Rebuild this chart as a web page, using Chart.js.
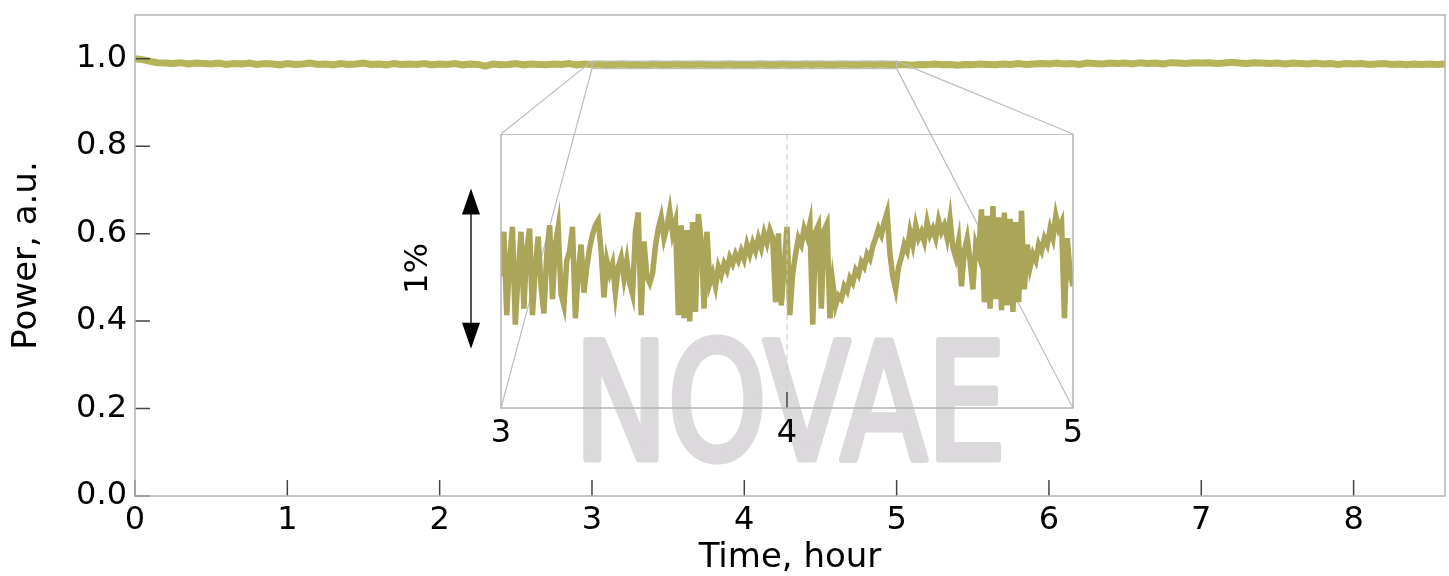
<!DOCTYPE html>
<html>
<head>
<meta charset="utf-8">
<title>Power, a.u. vs time</title>
<script src="https://cdn.jsdelivr.net/npm/chart.js@4.4.1/dist/chart.umd.min.js"></script>
<style>
  html, body { margin: 0; padding: 0; background: #fff; }
  .wrap { position: relative; width: 1449px; height: 576px; }
  .wrap canvas { position: absolute; }
  #main-chart { left: 0; top: 0; }
  #inset-chart { left: 380px; top: 134px; }
</style>
</head>
<body>
<div class="wrap">
  <canvas id="main-chart" width="1449" height="576"></canvas>
  <canvas id="inset-chart" width="733" height="326"></canvas>
</div>
<script>
// Main trace: normalised power, one reading every 0.05 hour from t = 0
const mainStep = 0.05;
const mainPower = [
  1.000, 0.998, 0.994, 0.991, 0.990, 0.989, 0.991, 0.988, 0.990, 0.989,
  0.988, 0.990, 0.987, 0.989, 0.988, 0.990, 0.987, 0.989, 0.988, 0.986,
  0.989, 0.987, 0.988, 0.990, 0.987, 0.988, 0.986, 0.989, 0.987, 0.988,
  0.990, 0.987, 0.988, 0.986, 0.989, 0.987, 0.988, 0.987, 0.989, 0.986,
  0.988, 0.987, 0.989, 0.986, 0.988, 0.987, 0.983, 0.988, 0.986, 0.987,
  0.989, 0.986, 0.988, 0.987, 0.986, 0.988, 0.987, 0.989, 0.986, 0.988,
  0.987, 0.988, 0.986, 0.987, 0.988, 0.986, 0.987, 0.985, 0.988, 0.987,
  0.986, 0.988, 0.987, 0.986, 0.988, 0.987, 0.985, 0.987, 0.988, 0.986,
  0.987, 0.986, 0.988, 0.987, 0.986, 0.988, 0.987, 0.986, 0.988, 0.987,
  0.988, 0.986, 0.987, 0.988, 0.987, 0.986, 0.988, 0.987, 0.988, 0.987,
  0.986, 0.987, 0.985, 0.987, 0.986, 0.988, 0.986, 0.987, 0.985, 0.987,
  0.986, 0.988, 0.987, 0.986, 0.988, 0.987, 0.989, 0.987, 0.988, 0.989,
  0.988, 0.990, 0.988, 0.989, 0.987, 0.990, 0.989, 0.988, 0.990, 0.989,
  0.990, 0.988, 0.991, 0.989, 0.990, 0.988, 0.991, 0.990, 0.989, 0.991,
  0.990, 0.991, 0.989, 0.990, 0.992, 0.990, 0.989, 0.991, 0.990, 0.989,
  0.990, 0.988, 0.990, 0.989, 0.988, 0.990, 0.988, 0.989, 0.987, 0.989,
  0.988, 0.989, 0.987, 0.988, 0.989, 0.987, 0.988, 0.986, 0.988, 0.987,
  0.988, 0.987, 0.988,
];

// Zoomed trace between 3 and 5 hours, one reading every 0.01 hour
const insetStart = 3;
const insetEnd = 5;
const insetStep = 0.01;
const insetPower = [
  0.9856, 0.9884, 0.9832, 0.9866, 0.9887, 0.9826, 0.9858, 0.9884, 0.9836, 0.9873,
  0.9886, 0.9832, 0.9862, 0.9881, 0.9850, 0.9833, 0.9870, 0.9888, 0.9842, 0.9876,
  0.9887, 0.9845, 0.9838, 0.9866, 0.9872, 0.9887, 0.9830, 0.9858, 0.9876, 0.9846,
  0.9862, 0.9874, 0.9882, 0.9888, 0.9891, 0.9872, 0.9843, 0.9866, 0.9858, 0.9864,
  0.9846, 0.9862, 0.9868, 0.9855, 0.9866, 0.9852, 0.9845, 0.9884, 0.9896, 0.9832,
  0.9878, 0.9856, 0.9852, 0.9858, 0.9875, 0.9886, 0.9893, 0.9880, 0.9887, 0.9897,
  0.9883, 0.9890, 0.9832, 0.9888, 0.9830, 0.9885, 0.9828, 0.9890, 0.9834, 0.9895,
  0.9878, 0.9836, 0.9884, 0.9852, 0.9858, 0.9850, 0.9862, 0.9857, 0.9864, 0.9860,
  0.9868, 0.9864, 0.9870, 0.9866, 0.9872, 0.9867, 0.9876, 0.9870, 0.9877, 0.9872,
  0.9880, 0.9874, 0.9883, 0.9877, 0.9885, 0.9880, 0.9840, 0.9883, 0.9838, 0.9862,
  0.9887, 0.9832, 0.9858, 0.9870, 0.9880, 0.9876, 0.9886, 0.9881, 0.9889, 0.9826,
  0.9884, 0.9888, 0.9836, 0.9885, 0.9889, 0.9830, 0.9852, 0.9838, 0.9844, 0.9842,
  0.9850, 0.9847, 0.9855, 0.9852, 0.9860, 0.9857, 0.9865, 0.9862, 0.9870, 0.9867,
  0.9875, 0.9880, 0.9886, 0.9882, 0.9890, 0.9896, 0.9870, 0.9856, 0.9848, 0.9862,
  0.9868, 0.9876, 0.9872, 0.9884, 0.9876, 0.9888, 0.9880, 0.9884, 0.9878, 0.9890,
  0.9882, 0.9886, 0.9880, 0.9891, 0.9884, 0.9888, 0.9880, 0.9892, 0.9874, 0.9868,
  0.9878, 0.9850, 0.9872, 0.9880, 0.9866, 0.9848, 0.9876, 0.9870, 0.9898, 0.9840,
  0.9894, 0.9836, 0.9900, 0.9842, 0.9893, 0.9835, 0.9896, 0.9838, 0.9892, 0.9834,
  0.9890, 0.9840, 0.9897, 0.9848, 0.9876, 0.9862, 0.9870, 0.9866, 0.9876, 0.9872,
  0.9880, 0.9876, 0.9886, 0.9880, 0.9894, 0.9886, 0.9890, 0.9830, 0.9880, 0.9858,
  0.9850,
];

// Axis ranges and the zoom window
const timeMax = 8.6;
const powerMax = 1.1;
const insetPowerMin = 0.9774;
const insetPowerMax = 0.9945;
// The 1% scale arrow next to the inset
const arrowLow = 0.9811;
const arrowHigh = 0.9911;

const FONT = '"DejaVu Sans", "Liberation Sans", sans-serif';
const traceColor = 'rgb(182, 180, 88)';
const insetColor = 'rgb(170, 165, 88)';
const frameColor = '#b4b4b4';
const tickColor = '#444';
const watermarkColor = '#dcd9dc';

/**
 * Turns a list of readings into {x, y} points
 * @param {number[]} values Readings
 * @param {number} start Time of first reading
 * @param {number} step Time between readings
 */
function toPoints(values, start, step) {
  return values.map((v, i) => ({ x: start + i * step, y: v }));
}

/**
 * Draws a filled arrow head
 */
function arrowHead(ctx, x, tipY, dir) {
  ctx.beginPath();
  ctx.moveTo(x, tipY);
  ctx.lineTo(x - 9, tipY + dir * 26);
  ctx.lineTo(x + 9, tipY + dir * 26);
  ctx.closePath();
  ctx.fill();
}

// Decorations of the small chart: frame, dashed centre line, 1% arrow
const insetDecor = {
  id: 'insetDecor',
  afterDraw(chart) {
    const { ctx, chartArea: a, scales } = chart;
    ctx.save();
    // dashed line at the middle tick
    const mid = scales.x.getPixelForValue(4);
    ctx.strokeStyle = '#c8c8c8';
    ctx.lineWidth = 1;
    ctx.setLineDash([6, 4]);
    ctx.beginPath();
    ctx.moveTo(mid, a.top);
    ctx.lineTo(mid, a.bottom);
    ctx.stroke();
    ctx.setLineDash([]);
    // inward tick
    ctx.strokeStyle = tickColor;
    ctx.lineWidth = 1.5;
    ctx.beginPath();
    ctx.moveTo(mid, a.bottom);
    ctx.lineTo(mid, a.bottom - 16);
    ctx.stroke();
    // frame
    ctx.strokeStyle = frameColor;
    ctx.lineWidth = 1.5;
    ctx.strokeRect(a.left, a.top, a.right - a.left, a.bottom - a.top);

    // 1% arrow
    const ax = a.left - 30;
    const top = scales.y.getPixelForValue(arrowHigh);
    const bottom = scales.y.getPixelForValue(arrowLow);
    ctx.strokeStyle = '#555';
    ctx.lineWidth = 2;
    ctx.beginPath();
    ctx.moveTo(ax, top + 10);
    ctx.lineTo(ax, bottom - 10);
    ctx.stroke();
    ctx.fillStyle = '#000';
    arrowHead(ctx, ax, top, 1);
    arrowHead(ctx, ax, bottom, -1);
    ctx.translate(a.left - 82, (top + bottom) / 2);
    ctx.rotate(-Math.PI / 2);
    ctx.font = '32px ' + FONT;
    ctx.textAlign = 'center';
    ctx.textBaseline = 'middle';
    ctx.fillText('1%', 0, 0);
    ctx.restore();
  },
};

const insetCanvas = document.getElementById('inset-chart');
const insetChart = new Chart(insetCanvas.getContext('2d'), {
  type: 'line',
  data: {
    datasets: [{
      data: toPoints(insetPower, insetStart, insetStep),
      borderColor: insetColor,
      borderWidth: 5.5,
      pointRadius: 0,
      tension: 0,
    }],
  },
  options: {
    responsive: false,
    animation: false,
    devicePixelRatio: 1,
    layout: { padding: { left: 121, right: 40, top: 0, bottom: 0 } },
    plugins: { legend: { display: false }, tooltip: { enabled: false } },
    scales: {
      x: {
        type: 'linear',
        min: insetStart,
        max: insetEnd,
        afterFit: (scale) => { scale.height = 52; },
        grid: { display: false, drawTicks: false },
        border: { display: false },
        ticks: {
          stepSize: 1,
          padding: 6,
          color: '#000',
          font: { family: FONT, size: 32 },
          maxRotation: 0,
        },
      },
      y: {
        display: false,
        min: insetPowerMin,
        max: insetPowerMax,
      },
    },
  },
  plugins: [insetDecor],
});

// Decorations of the main chart: watermark, frame, inward ticks, zoom marks
const mainDecor = {
  id: 'mainDecor',
  beforeDatasetsDraw(chart) {
    const { ctx, chartArea: a } = chart;
    ctx.save();
    ctx.font = '162px "DejaVu Sans Condensed", ' + FONT;
    const w = ctx.measureText('NOVAE').width;
    ctx.translate((a.left + a.right) / 2, a.bottom - 37);
    ctx.scale(432 / w, 1);
    ctx.fillStyle = watermarkColor;
    ctx.strokeStyle = watermarkColor;
    ctx.lineWidth = 7;
    ctx.lineJoin = 'round';
    ctx.textAlign = 'center';
    ctx.textBaseline = 'alphabetic';
    ctx.fillText('NOVAE', 0, 0);
    ctx.strokeText('NOVAE', 0, 0);
    ctx.restore();
  },
  afterDraw(chart) {
    const { ctx, chartArea: a, scales } = chart;
    const { x, y } = scales;
    ctx.save();
    // inward ticks
    ctx.strokeStyle = tickColor;
    ctx.lineWidth = 1.5;
    ctx.beginPath();
    y.ticks.forEach((t) => {
      const py = y.getPixelForValue(t.value);
      ctx.moveTo(a.left, py);
      ctx.lineTo(a.left + 15, py);
    });
    x.ticks.forEach((t) => {
      const px = x.getPixelForValue(t.value);
      ctx.moveTo(px, a.bottom);
      ctx.lineTo(px, a.bottom - 16);
    });
    ctx.stroke();
    // frame
    ctx.strokeStyle = frameColor;
    ctx.strokeRect(a.left, a.top, a.right - a.left, a.bottom - a.top);

    // zoom window and connector lines to the inset corners
    const l = x.getPixelForValue(insetStart);
    const r = x.getPixelForValue(insetEnd);
    const t = y.getPixelForValue(insetPowerMax);
    const b = y.getPixelForValue(insetPowerMin);
    const ia = insetChart.chartArea;
    const ox = insetCanvas.offsetLeft;
    const oy = insetCanvas.offsetTop;
    ctx.strokeStyle = '#bdbdbd';
    ctx.lineWidth = 1.2;
    ctx.strokeRect(l, t, r - l, b - t);
    ctx.beginPath();
    ctx.moveTo(l, t); ctx.lineTo(ox + ia.left, oy + ia.top);
    ctx.moveTo(l, b); ctx.lineTo(ox + ia.left, oy + ia.bottom);
    ctx.moveTo(r, t); ctx.lineTo(ox + ia.right, oy + ia.top);
    ctx.moveTo(r, b); ctx.lineTo(ox + ia.right, oy + ia.bottom);
    ctx.stroke();
    ctx.restore();
  },
};

const mainCanvas = document.getElementById('main-chart');
const mainChart = new Chart(mainCanvas.getContext('2d'), {
  type: 'line',
  data: {
    datasets: [{
      data: toPoints(mainPower, 0, mainStep),
      borderColor: traceColor,
      borderWidth: 7,
      pointRadius: 0,
      tension: 0,
    }],
  },
  options: {
    responsive: false,
    animation: false,
    devicePixelRatio: 1,
    layout: { padding: { left: 0, right: 4, top: 15, bottom: 0 } },
    plugins: { legend: { display: false }, tooltip: { enabled: false } },
    scales: {
      x: {
        type: 'linear',
        min: 0,
        max: timeMax,
        afterFit: (scale) => { scale.height = 80; },
        grid: { display: false, drawTicks: false },
        border: { display: false },
        ticks: {
          stepSize: 1,
          includeBounds: false,
          padding: 5,
          color: '#000',
          font: { family: FONT, size: 32 },
          maxRotation: 0,
        },
        title: {
          display: true,
          text: 'Time, hour',
          color: '#000',
          font: { family: FONT, size: 34, lineHeight: 1 },
          padding: { top: 0, bottom: 1 },
        },
      },
      y: {
        min: 0,
        max: powerMax,
        afterFit: (scale) => {
          scale.width = 135;
          scale.paddingTop = 0;
          scale.paddingBottom = 0;
        },
        grid: { display: false, drawTicks: false },
        border: { display: false },
        ticks: {
          stepSize: 0.2,
          includeBounds: false,
          padding: 8,
          color: '#000',
          font: { family: FONT, size: 32 },
          callback: (v) => v.toFixed(1),
        },
        title: {
          display: true,
          text: 'Power, a.u.',
          color: '#000',
          font: { family: FONT, size: 34, lineHeight: 1 },
          padding: { top: 10, bottom: 0 },
        },
      },
    },
  },
  plugins: [mainDecor],
});
</script>
</body>
</html>
